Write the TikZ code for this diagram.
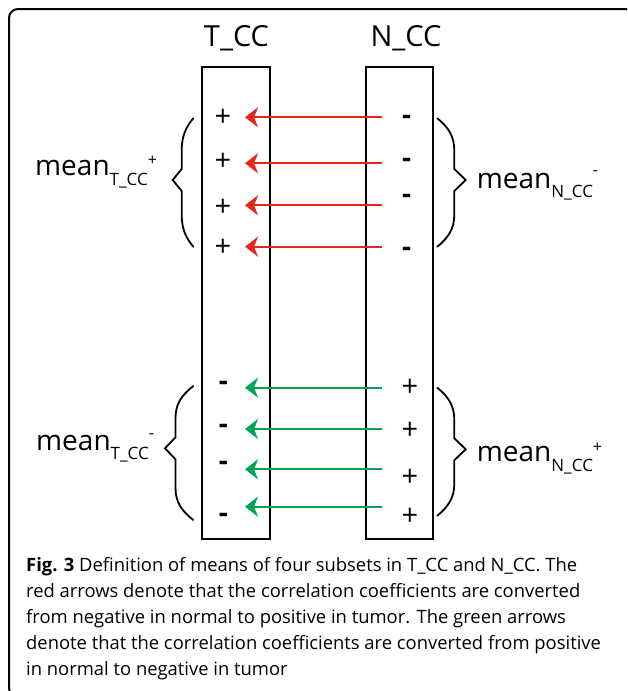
\documentclass[tikz,border=0pt]{standalone}
\usepackage{fontspec}
\setmainfont{Open Sans}
\usetikzlibrary{arrows.meta}
\definecolor{convred}{RGB}{228,38,30}
\definecolor{convgreen}{RGB}{0,166,81}
% curly brace: #1 end x, #2 spine x, #3 tip x, #4 top y, #5 tip y, #6 bottom y
\newcommand\curlybrace[6]{%
  \draw[bracestyle] (#1,#4) .. controls ({#2+0.35*(#1-#2)},{#4+9}) and (#2,{#4+18}) .. (#2,{#4+32})
    -- (#2,{#5-11}) -- (#3,#5) -- (#2,{#5+11}) -- (#2,{#6-32})
    .. controls (#2,{#6-18}) and ({#2+0.35*(#1-#2)},{#6-9}) .. (#1,#6);}
\begin{document}
\begin{tikzpicture}[x=1pt,y=-1pt,
  colbox/.style={draw,line width=2pt,minimum width=67.6pt,minimum height=472.6pt,inner sep=0pt},
  coltitle/.style={anchor=base,font=\fontsize{29}{34}\selectfont,inner sep=0pt},
  plussign/.style={anchor=base,font=\fontsize{29}{30}\selectfont,inner sep=0pt},
  minussign/.style={anchor=base,font=\bfseries\fontsize{28}{30}\selectfont,inner sep=0pt},
  meanlabel/.style={anchor=base west,font=\fontsize{28}{32}\selectfont,inner sep=0pt},
  bracestyle/.style={line width=1.8pt,line cap=round,line join=miter},
  redarrow/.style={draw=convred,line width=2.2pt,-{Stealth[length=13pt,width=20pt,inset=4pt]}},
  greenarrow/.style={draw=convgreen,line width=2.2pt,-{Stealth[length=13pt,width=20pt,inset=4pt]}},
  caption/.style={anchor=base west,align=left,inner sep=0pt,font=\fontsize{18.4}{26}\selectfont}]
\useasboundingbox (0,0) rectangle (627,691);
\clip (0,0) rectangle (627,691);
% outer frame
\draw[line width=2pt,rounded corners=9pt] (9,9) rectangle (645,697);

% the two columns
\node[colbox] (tbox) at (236,303) {};
\node[colbox] (nbox) at (399.5,303) {};
\node[coltitle] (ttitle) at (236.5,46.7) {T\_CC};
\node[coltitle] (ntitle) at (406,46.7) {N\_CC};

% upper subset: negative in N_CC, positive in T_CC
\foreach \i/\ty/\ny/\ay in {1/116.7/117.3/117.3, 2/160/160/163.3, 3/206.7/196.7/205.3, 4/246.7/249/246.7}{
  \node[plussign] (tp\i) at (223,\ty+10) {+};
  \node[minussign] (nm\i) at (406.7,\ny+7) {-};
  \coordinate (rs\i) at (381.7,\ay);
  \coordinate (re\i) at (245,\ay);
  \draw[redarrow] (rs\i) -- (re\i);
}
% lower subset: positive in N_CC, negative in T_CC
\foreach \i/\ty/\ny/\ay in {1/383.3/386.7/387.7, 2/426.7/429/429, 3/463.3/476/469.3, 4/515.7/515.7/506.7}{
  \node[minussign] (tm\i) at (223.3,\ty+7) {-};
  \node[plussign] (np\i) at (410,\ny+10) {+};
  \coordinate (gs\i) at (381.7,\ay);
  \coordinate (ge\i) at (245,\ay);
  \draw[greenarrow] (gs\i) -- (ge\i);
}

% braces
\curlybrace{193.3}{181.7}{172.7}{118.3}{180}{246.7}
\curlybrace{193.3}{175.5}{165}{386}{448.3}{520}
\curlybrace{437.3}{454.3}{465.7}{118.3}{180}{246.7}
\curlybrace{437.3}{454.3}{465.7}{387.7}{449.3}{515.7}

% mean labels
\node[meanlabel] (meantp) at (35,175.7) {mean\raisebox{-9.5pt}{\fontsize{17}{18}\selectfont T\_CC}\raisebox{10pt}{\fontsize{16}{17}\selectfont +}};
\node[meanlabel] (meantm) at (36,450) {mean\raisebox{-9.5pt}{\fontsize{17}{18}\selectfont T\_CC}\raisebox{12pt}{\fontsize{16}{17}\selectfont -}};
\node[meanlabel] (meannm) at (476.7,188.3) {mean\raisebox{-9.5pt}{\fontsize{17}{18}\selectfont N\_CC}\raisebox{13pt}{\fontsize{16}{17}\selectfont -}};
\node[meanlabel] (meannp) at (476.7,461.7) {mean\raisebox{-9.5pt}{\fontsize{17}{18}\selectfont N\_CC}\raisebox{9pt}{\fontsize{16}{17}\selectfont +}};

% caption
\node[caption] (cap) at (26,675) {\textbf{Fig. 3} Definition of means of four subsets in T\_CC and N\_CC. The\\
red arrows denote that the correlation coefficients are converted\\
from negative in normal to positive in tumor. The green arrows\\
denote that the correlation coefficients are converted from positive\\
in normal to negative in tumor};
\end{tikzpicture}
\end{document}
